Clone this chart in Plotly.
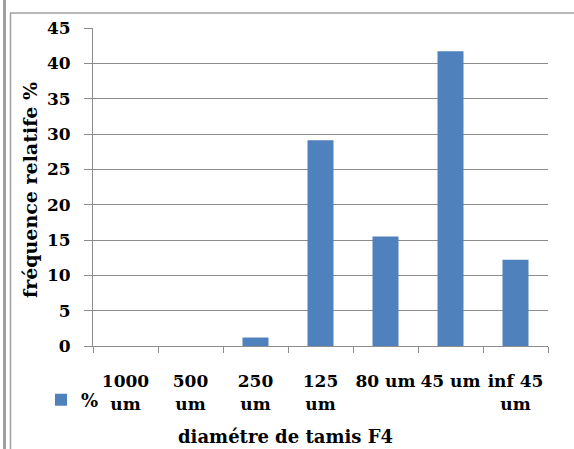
import plotly.graph_objects as go

categories = ["1000<br>um", "500<br>um", "250<br>um", "125<br>um", "80 um", "45 um", "inf 45<br>um"]
values = [0, 0, 1.2, 29.1, 15.5, 41.7, 12.2]
series_name = "%"
y_ticks = [0, 5, 10, 15, 20, 25, 30, 35, 40, 45]

W, H = 574, 449
L, R, T, B = 93, 26, 28, 103
pw, ph = W - L - R, H - T - B

def px(x):
    return (x - L) / pw

def py(y):
    return (H - B - y) / ph

FONT = "DejaVu Serif"
bar_color = "#4F81BD"
grid = "#8C8C8C"

fig = go.Figure()
fig.add_trace(go.Bar(x=categories, y=values, name=series_name, marker_color=bar_color,
                     marker_line_width=0, showlegend=True))

fig.update_layout(
    width=W, height=H,
    margin=dict(l=L, r=R, t=T, b=B, autoexpand=False),
    paper_bgcolor="white", plot_bgcolor="white",
    bargap=0.6,
    font=dict(family=FONT, size=16, color="black"),
    showlegend=True,
    legend=dict(x=px(41), y=py(400), xanchor="left", yanchor="middle",
                font=dict(family=FONT, size=18, color="black", weight="bold"),
                bgcolor="rgba(0,0,0,0)", itemwidth=30, tracegroupgap=0),
    xaxis=dict(type="category", showline=True, linecolor=grid, linewidth=1,
               ticks="outside", tickson="boundaries", ticklen=6, tickcolor=grid,
               showgrid=False, tickangle=0, automargin=False,
               tickfont=dict(family=FONT, size=17, color="black", weight="bold"),
               ticklabelstandoff=20),
    yaxis=dict(range=[0, 45], tickvals=y_ticks, showline=True, linecolor=grid, linewidth=1,
               ticks="outside", ticklen=8, tickcolor=grid, automargin=False,
               showgrid=True, gridcolor=grid, gridwidth=1, zeroline=False,
               tickfont=dict(family=FONT, size=17, color="black", weight="bold"),
               ticklabelstandoff=10),
    annotations=[
        dict(text="<b>diamétre de tamis F4</b>", xref="paper", yref="paper",
             x=px(285), y=py(436), xanchor="center", yanchor="middle", showarrow=False,
             font=dict(family=FONT, size=18, color="black")),
        dict(text="<b>fréquence relatife %</b>", xref="paper", yref="paper",
             x=px(30), y=py(190), xanchor="center", yanchor="middle", showarrow=False,
             textangle=-90, font=dict(family=FONT, size=19, color="black")),
    ],
    shapes=[
        dict(type="line", xref="paper", yref="paper", x0=px(4.5), x1=px(4.5), y0=py(0), y1=py(449),
             line=dict(color="#A0A0A0", width=3)),
        dict(type="line", xref="paper", yref="paper", x0=px(10.5), x1=px(10.5), y0=py(13), y1=py(449),
             line=dict(color="#A0A0A0", width=1.5)),
        dict(type="line", xref="paper", yref="paper", x0=px(10), x1=px(574), y0=py(13), y1=py(13),
             line=dict(color="#A0A0A0", width=1.5)),
    ],
)

fig.write_html("out.html")
